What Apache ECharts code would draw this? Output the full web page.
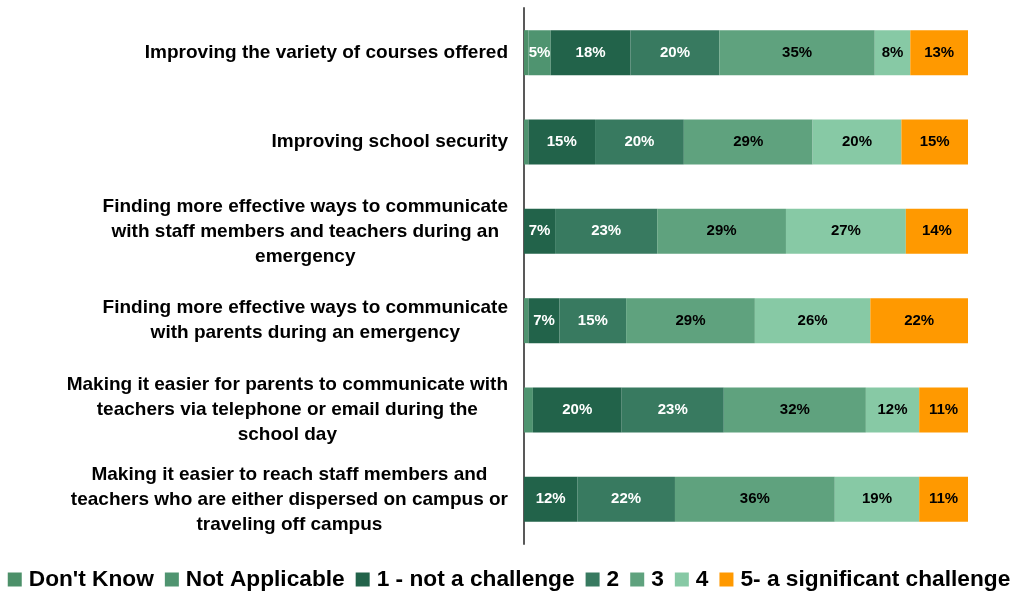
<!DOCTYPE html>
<html>
<head>
<meta charset="utf-8">
<style>
  html, body { margin: 0; padding: 0; background: #ffffff; }
  #chart { width: 1018px; height: 591px; }
</style>
<script src="https://cdn.jsdelivr.net/npm/echarts@6/dist/echarts.min.js"></script>
</head>
<body>
<div id="chart"></div>
<script>
// Survey items (top to bottom), with the line breaks used on the axis
const categories = [
  'Improving the variety of courses offered',
  'Improving school security',
  'Finding more effective ways to communicate\nwith staff members and teachers during an\nemergency',
  'Finding more effective ways to communicate\nwith parents during an emergency',
  'Making it easier for parents to communicate with\nteachers via telephone or email during the\nschool day',
  'Making it easier to reach staff members and\nteachers who are either dispersed on campus or\ntraveling off campus'
];

// Percent of respondents per rating, one array per response option
const dontKnow      = [1, 0, 0, 0, 0, 0];
const notApplicable = [5, 1, 0, 1, 2, 0];
const rating1       = [18, 15, 7, 7, 20, 12];
const rating2       = [20, 20, 23, 15, 23, 22];
const rating3       = [35, 29, 29, 29, 32, 36];
const rating4       = [8, 20, 27, 26, 12, 19];
const rating5       = [13, 15, 14, 22, 11, 11];

const seriesNames = ["Don't Know", 'Not Applicable', '1 - not a challenge', '2', '3', '4', '5- a significant challenge'];
const seriesData  = [dontKnow, notApplicable, rating1, rating2, rating3, rating4, rating5];
const seriesColors = ['#4c9069', '#4f9470', '#22634a', '#387a60', '#5fa27e', '#87c9a5', '#ff9900'];
const labelColors  = ['#ffffff', '#ffffff', '#ffffff', '#ffffff', '#000000', '#000000', '#000000'];

const FONT = '"Liberation Sans", Arial, sans-serif';

const chart = echarts.init(document.getElementById('chart'), null, { renderer: 'canvas' });

const series = seriesNames.map((name, i) => ({
  name: name,
  type: 'bar',
  stack: 'total',
  barWidth: 45,
  data: seriesData[i],
  itemStyle: { color: seriesColors[i] },
  emphasis: { disabled: true },
  label: {
    show: true,
    position: 'inside',
    color: labelColors[i],
    fontFamily: FONT,
    fontWeight: 'bold',
    fontSize: 15,
    formatter: p => (p.value >= 3 ? p.value + '%' : '')
  }
}));

chart.setOption({
  animation: false,
  backgroundColor: '#ffffff',
  grid: { left: 524, right: 50, top: 8, bottom: 47, containLabel: false },
  xAxis: {
    type: 'value',
    min: 0,
    max: 100,
    show: false
  },
  yAxis: {
    type: 'category',
    data: categories,
    inverse: true,
    axisLine: { show: true, lineStyle: { color: '#595959', width: 2 } },
    axisTick: { show: false },
    splitLine: { show: false },
    axisLabel: {
      margin: 16,
      align: 'right',
      color: '#000000',
      fontFamily: FONT,
      fontWeight: 'bold',
      fontSize: 19,
      lineHeight: 25,
      // centre every line inside the right-aligned label block
      formatter: v => v.split('\n').map(line => '{c|' + line + '}').join('\n'),
      rich: {
        c: {
          align: 'center',
          color: '#000000',
          fontFamily: FONT,
          fontWeight: 'bold',
          fontSize: 19,
          lineHeight: 25
        }
      }
    }
  },
  legend: {
    data: seriesNames,
    left: 'center',
    top: 563,
    icon: 'rect',
    itemWidth: 14,
    itemHeight: 14,
    itemGap: 11,
    selectedMode: false,
    textStyle: {
      color: '#000000',
      fontFamily: FONT,
      fontWeight: 'bold',
      fontSize: 22.7,
      padding: [0, 0, 0, 2]
    }
  },
  series: series
});
</script>
</body>
</html>
